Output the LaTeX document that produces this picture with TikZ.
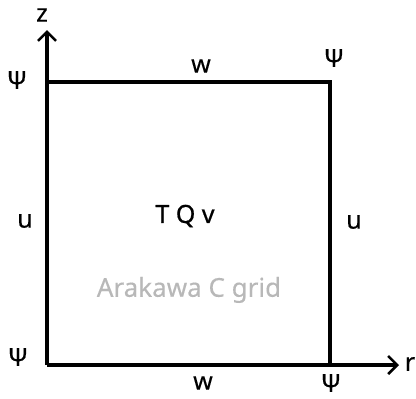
\documentclass[tikz,border=0pt]{standalone}
\usepackage{fontspec}
\setmainfont[FakeBold=0.3]{Noto Sans}
\newfontfamily\semib[FakeBold=0.8]{Noto Sans}
\usetikzlibrary{arrows.meta}
\begin{document}
\begin{tikzpicture}[x=1pt,y=-1pt,
  line/.style={line width=3.2pt},
  axis/.style={line width=3.2pt,-{Straight Barb[length=9pt,width=18pt,line width=2.6pt]}},
  lbl/.style={font=\fontsize{25}{30}\selectfont,inner sep=0pt},
  grey/.style={lbl,text=black!28,font=\fontsize{26}{30}\selectfont}]
\useasboundingbox (0,0) rectangle (416,399);
\coordinate (O) at (47,365);
\coordinate (Z) at (47,30);
\coordinate (R) at (399,365);
\coordinate (TL) at (47,82);
\coordinate (TR) at (330,82);
\coordinate (BR) at (330,365);
\draw[axis] (O) -- (Z);
\draw[axis] (O) -- (R);
\draw[line] (TL) -- (TR) -- (BR);
\node[lbl] (zl) at (42,15) {z};
\node[lbl] (rl) at (410,364) {r};
\node[lbl] (p1) at (17,80) {Ψ};
\node[lbl] (p2) at (334,58) {Ψ};
\node[lbl] (p3) at (18,357) {Ψ};
\node[lbl] (p4) at (331,383) {Ψ};
\node[lbl] (w1) at (201,66) {w};
\node[lbl] (w2) at (203,383) {w};
\node[lbl] (u1) at (25,221) {u};
\node[lbl] (u2) at (354,222) {u};
\node[lbl,font=\fontsize{25}{30}\semib] (tqv) at (185,216) {T Q v};
\node[grey] (ak) at (189,290) {Arakawa C grid};
\end{tikzpicture}
\end{document}
